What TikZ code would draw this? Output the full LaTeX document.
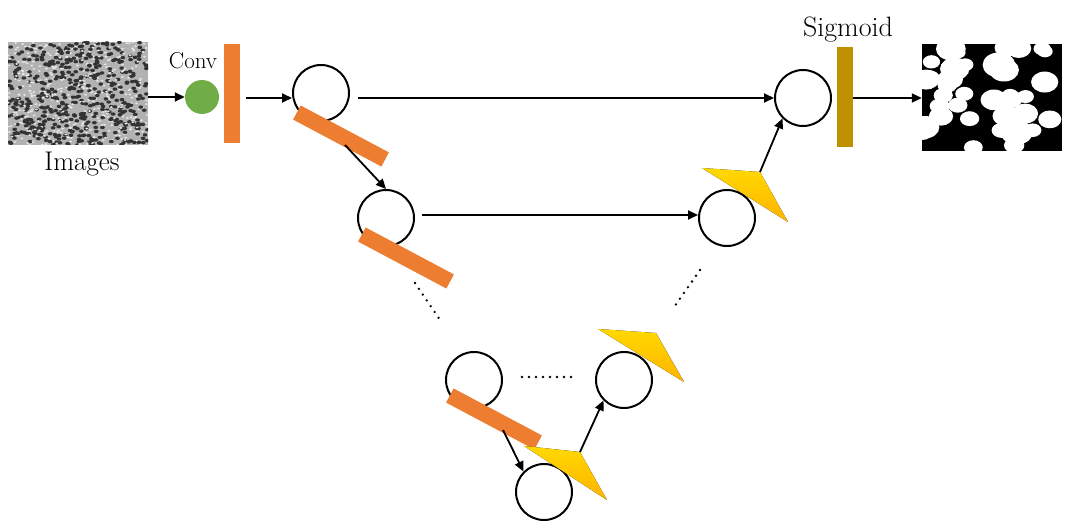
\documentclass[tikz,border=0pt]{standalone}
\usetikzlibrary{arrows.meta}
\definecolor{barorange}{HTML}{ED7D31}
\definecolor{convgreen}{HTML}{70AD47}
\definecolor{siggold}{HTML}{BF9000}
\begin{document}
\begin{tikzpicture}[x=1pt,y=-1pt,
  unitstyle/.style={circle,draw,line width=2pt,fill=white,minimum size=56,inner sep=0},
  linkstyle/.style={-{Triangle[length=10,width=9]},line width=1.8pt},
  barstyle/.style={fill=barorange,draw=none},
  upstyle/.style={top color=yellow!70!orange,bottom color=orange!60!yellow,draw=none},
  skipstyle/.style={line width=2.6pt,line cap=round,dash pattern=on 0pt off 7pt}]

\useasboundingbox (0,0) rectangle (1076,532);

% input image
\begin{scope}
\clip (8,42) rectangle (148,145);
\fill[gray!60] (8,42) rectangle (148,145);
\pgfmathsetseed{7}
\foreach \i in {1,...,500}{
  \pgfmathsetmacro{\px}{8+140*rnd}\pgfmathsetmacro{\py}{42+103*rnd}
  \fill[black!80] (\px,\py) ellipse (2.4 and 1.7);
  \pgfmathsetmacro{\qx}{8+140*rnd}\pgfmathsetmacro{\qy}{42+103*rnd}
  \fill[white!80!gray] (\qx,\qy) ellipse (1.6 and 1.0);
}
\end{scope}
\node[minimum width=140,minimum height=103,inner sep=0] (img) at (78,97) {};
\node[font=\fontsize{27}{29}\selectfont] (imglab) at (82,164) {Images};

% output mask
\begin{scope}
\clip (922,44) rectangle (1062,151);
\fill[black] (922,44) rectangle (1062,151);
\pgfmathsetseed{11}
\foreach \i in {1,...,40}{
  \pgfmathsetmacro{\px}{922+140*rnd}\pgfmathsetmacro{\py}{44+107*rnd}
  \pgfmathsetmacro{\pr}{5+8*rnd}
  \fill[white] (\px,\py) ellipse ({\pr*1.3} and \pr);
}
\end{scope}
\node[minimum width=140,minimum height=107,inner sep=0] (mask) at (992,98) {};

% conv
\node[circle,fill=convgreen,minimum size=34,inner sep=0] (conv) at (202,97) {};
\node[font=\fontsize{23}{25}\selectfont] (convlab) at (193,61) {Conv};
\fill[barorange] (224,44) rectangle (240,143);
\node[inner sep=0,minimum width=16,minimum height=99] (bar0) at (232,93.5) {};

% encoder / decoder units
\node[unitstyle] (u1) at (321,93) {};
\node[unitstyle] (u2) at (386,218) {};
\node[unitstyle] (u3) at (474,380) {};
\node[unitstyle] (u4) at (544,492) {};
\node[unitstyle] (u5) at (624,380) {};
\node[unitstyle] (u6) at (727,218) {};
\node[unitstyle] (u7) at (803,98) {};

% pooling bars
\fill[barstyle,rotate around={-28:(341,136)}] (291,128) rectangle (391,144);
\fill[barstyle,rotate around={-28:(406,258)}] (356,250) rectangle (456,266);
\fill[barstyle,rotate around={-28:(494,419)}] (444,411) rectangle (544,427);

% upsampling wedges
\fill[upstyle] (702,168) -- (760,172) -- (788,222) -- cycle;
\fill[upstyle] (598,329) -- (656,333) -- (684,382) -- cycle;
\fill[upstyle] (524,446) -- (580,452) -- (607,500) -- cycle;
\coordinate (w1) at (760,172);
\coordinate (w3) at (580,452);

% sigmoid
\fill[siggold] (837,47) rectangle (853,147);
\node[inner sep=0,minimum width=16,minimum height=100] (sig) at (845,97) {};
\node[font=\fontsize{28}{30}\selectfont] (siglab) at (848,30) {Sigmoid};

% connectors
\draw[linkstyle] (img.east) -- (conv.west);
\draw[linkstyle] (246,98) -- (u1.west |- 0,98);
\draw[linkstyle] (345,145) -- (u2.north);
\draw[linkstyle] (358,98) -- (u7.west |- 0,98);
\draw[linkstyle] (422,215) -- (u6.west |- 0,215);
\draw[linkstyle] (w1) -- (u7.south west);
\draw[linkstyle] (503,430) -- (u4.north west);
\draw[linkstyle] (w3) -- (u5.south west);
\draw[linkstyle] (sig.east |- 0,98) -- (mask.west |- 0,98);

% skipped levels
\draw[skipstyle] (415,283) -- (440,320);
\draw[skipstyle] (700,270) -- (672,310);
\draw[skipstyle] (522,377) -- (572,377);

\end{tikzpicture}
\end{document}
